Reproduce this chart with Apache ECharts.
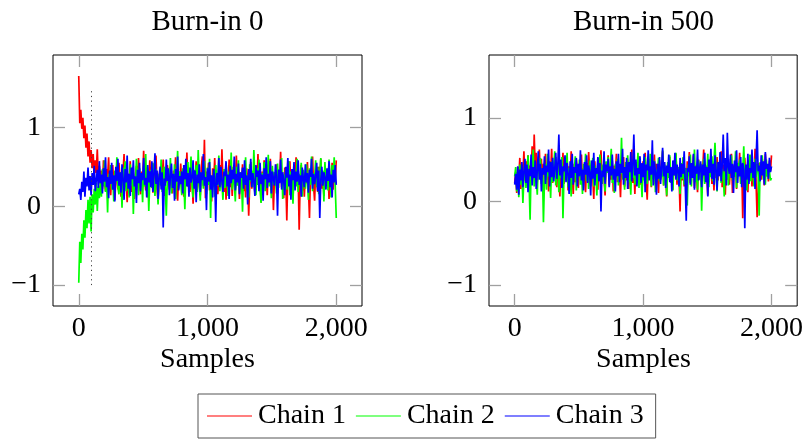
<!DOCTYPE html>
<html>
<head>
<meta charset="utf-8">
<script src="https://cdn.jsdelivr.net/npm/echarts@6/dist/echarts.min.js"></script>
<style>
  html, body { margin: 0; padding: 0; background: #fff; }
  #chart { width: 806px; height: 440px; }
</style>
</head>
<body>
<div id="chart"></div>
<script>
// MCMC trace plots: three chains, every 8th sample kept.
const SAMPLE_STEP = 8;
const panelTitles = ['Burn-in 0', 'Burn-in 500'];
const chainNames = ['Chain 1', 'Chain 2', 'Chain 3'];
const xTicks = [0, 1000, 2000];
const yTicks = [-1, 0, 1];
const burnInMark = 100;
const burnInMarkRange = [-1, 1.5];

// Panel 1: chains started from dispersed points
const chain1Run0 = [
  1.65, 1.05, 1.22, 0.98, 1.12, 0.86, 1.02, 0.74, 0.92, 0.63, 0.82, 0.55, 0.71, 0.48, 0.66, 0.38, 0.58, 0.42, 0.72, 0.35, 0.51,
  0.28, 0.45, 0.22, 0.58, 0.31, 0.19, 0.47, 0.36, 0.62, 0.25,
  0.14, 0.39, 0.52, 0.27, 0.08, 0.33, 0.48, 0.21, 0.55, 0.37,
  0.12, 0.29, 0.43, 0.66, 0.24, 0.35, 0.05, 0.41, 0.30, 0.57,
  0.18, 0.46, 0.26, 0.09, 0.38, 0.51, 0.23, 0.61, 0.32, 0.15,
  0.44, 0.28, 0.70, 0.34, 0.20, 0.49, 0.11, 0.36, 0.58, 0.27,
  0.40, 0.17, 0.53, 0.31, 0.64, 0.22, 0.06, 0.38, 0.47, 0.26,
  0.35, 0.59, 0.13, 0.42, 0.30, 0.52, 0.37, 0.21, 0.50, 0.28,
  0.16, 0.45, 0.33, 0.62, 0.19, 0.07, 0.41, 0.29, 0.54, 0.24,
  0.38, 0.12, 0.46, 0.31, 0.68, 0.25, 0.40, 0.18, 0.52, 0.34,
  0.03, 0.36, 0.27, 0.57, 0.21, 0.43, 0.30, 0.14, 0.49, 0.63,
  0.26, 0.84, 0.10, 0.44, 0.32, 0.55, 0.20, 0.37, 0.06, 0.48,
  0.29, 0.61, 0.23, 0.41, 0.15, 0.35, 0.52, 0.27, 0.72, 0.31,
  0.18, 0.46, 0.08, 0.38, 0.28, 0.59, 0.24, 0.42, 0.13, 0.50,
  0.33, 0.21, 0.64, 0.30, 0.45, 0.09, 0.37, 0.26, 0.53, 0.19,
  0.40, 0.11, 0.48, 0.34, -0.12, 0.29, 0.56, 0.22, 0.43, 0.36,
  0.17, 0.51, 0.27, 0.66, 0.23, 0.39, 0.05, 0.44, 0.31, 0.58,
  0.25, 0.37, 0.14, 0.47, 0.32, 0.60, 0.20, 0.41, -0.05, 0.35,
  0.28, 0.53, 0.16, 0.45, 0.30, 0.69, 0.24, 0.38, 0.10, 0.49,
  0.34, -0.18, 0.42, 0.26, 0.57, 0.21, 0.36, 0.08, 0.47, 0.31,
  0.62, 0.27, 0.40, -0.30, 0.33, 0.52, 0.19, 0.44, 0.12, 0.38,
  0.29, 0.56, 0.23, -0.15, 0.41, 0.35, 0.63, 0.25, 0.07, 0.46,
  0.32, 0.18, 0.50, 0.28, 0.60, 0.22, 0.39, 0.13, 0.48, 0.36,
  0.26, 0.44, 0.09, 0.37, 0.30, 0.55, 0.21, 0.42, 0.34, 0.58
];
const chain2Run0 = [
  -0.97, -0.45, -0.72, -0.35, -0.55, -0.18, -0.40, -0.05, -0.28, 0.08, -0.22, 0.12, -0.32, 0.15, -0.08, 0.22, 0.02, 0.30, -0.06, 0.25, 0.10,
  0.33, 0.12, 0.47, 0.25, 0.58, 0.18, 0.36, -0.08, 0.41, 0.29,
  0.52, 0.21, 0.38, 0.06, 0.45, 0.31, 0.62, 0.24, 0.15, 0.43,
  0.35, -0.02, 0.49, 0.27, 0.57, 0.19, 0.40, 0.30, 0.11, 0.53,
  0.26, 0.44, -0.10, 0.37, 0.22, 0.60, 0.32, 0.14, 0.48, 0.28,
  0.39, 0.05, 0.51, 0.25, 0.66, 0.20, 0.42, -0.06, 0.34, 0.46,
  0.23, 0.55, 0.30, 0.13, 0.47, 0.36, 0.02, 0.41, 0.27, 0.59,
  0.18, 0.38, 0.50, 0.24, -0.12, 0.33, 0.45, 0.29, 0.61, 0.16,
  0.40, 0.26, 0.53, 0.09, 0.37, 0.70, 0.22, 0.44, 0.31, 0.14,
  0.48, 0.35, -0.04, 0.42, 0.28, 0.56, 0.20, 0.39, 0.63, 0.25,
  0.11, 0.46, 0.33, 0.52, 0.18, 0.71, 0.29, 0.07, 0.43, 0.36,
  0.22, 0.57, 0.31, 0.15, 0.49, 0.27, 0.60, -0.15, 0.38, 0.24,
  0.45, 0.12, 0.52, 0.34, 0.26, 0.64, 0.19, 0.41, 0.30, 0.08,
  0.47, 0.23, 0.55, 0.36, 0.13, 0.44, 0.29, 0.68, 0.21, 0.40,
  0.32, 0.06, 0.50, 0.26, 0.58, 0.17, 0.43, 0.35, -0.07, 0.46,
  0.28, 0.62, 0.20, 0.39, 0.11, 0.53, 0.31, 0.45, 0.24, 0.71,
  0.37, 0.14, 0.48, 0.27, 0.59, 0.22, 0.04, 0.42, 0.33, 0.56,
  0.19, 0.45, 0.30, 0.65, 0.25, 0.38, 0.10, 0.51, 0.28, 0.43,
  0.35, 0.16, 0.54, 0.23, 0.47, 0.32, 0.61, 0.09, 0.40, 0.26,
  0.49, 0.21, 0.37, 0.57, 0.14, 0.44, 0.30, 0.03, 0.52, 0.34,
  0.25, 0.60, 0.18, 0.41, 0.29, 0.55, 0.12, 0.46, 0.36, 0.22,
  0.53, 0.31, 0.08, 0.48, 0.27, 0.63, 0.19, 0.42, 0.35, 0.58,
  0.24, 0.50, 0.15, 0.39, 0.61, 0.28, 0.45, 0.06, 0.56, 0.33,
  0.47, 0.20, 0.59, 0.37, 0.11, 0.52, 0.30, 0.62, 0.26, -0.15
];
const chain3Run0 = [
  0.15, 0.22, 0.08, 0.31, 0.18, 0.44, 0.12, 0.36, 0.25, 0.49,
  0.20, 0.38, 0.14, 0.42, 0.27, 0.51, 0.19, 0.33, 0.46, 0.23,
  0.57, 0.29, 0.40, 0.16, 0.48, 0.31, 0.62, 0.24, 0.37, 0.10,
  0.45, 0.28, 0.55, 0.21, 0.39, 0.06, 0.50, 0.32, 0.60, 0.26,
  0.43, 0.17, 0.53, 0.35, 0.08, 0.47, 0.30, 0.64, 0.22, 0.41,
  0.13, 0.49, 0.34, 0.58, 0.25, 0.38, 0.04, 0.46, 0.29, 0.55,
  0.19, 0.42, 0.33, 0.61, 0.27, 0.36, 0.11, 0.52, 0.30, 0.44,
  0.24, 0.57, 0.18, 0.40, 0.67, 0.28, 0.45, 0.09, 0.37, 0.50,
  0.21, 0.43, -0.27, 0.35, 0.26, 0.59, 0.32, 0.48, 0.14, 0.39,
  0.54, 0.23, 0.41, 0.07, 0.47, 0.31, 0.63, 0.20, 0.38, 0.28,
  0.44, 0.16, 0.52, 0.34, 0.60, 0.25, 0.42, 0.12, 0.49, 0.30,
  0.36, 0.58, 0.22, 0.45, 0.05, 0.40, 0.29, 0.53, 0.18, 0.43,
  0.33, 0.66, 0.26, 0.37, -0.05, 0.48, 0.31, 0.56, 0.21, 0.39,
  0.11, 0.47, 0.35, -0.20, 0.42, 0.27, 0.61, 0.24, 0.50, 0.32,
  0.18, 0.44, 0.38, 0.57, 0.25, 0.40, 0.09, 0.51, 0.29, 0.46,
  0.34, 0.63, 0.20, 0.41, 0.30, 0.54, 0.15, 0.43, 0.36, 0.49,
  0.22, 0.58, 0.27, 0.39, 0.02, 0.47, 0.33, 0.60, 0.24, 0.42,
  0.31, 0.13, 0.52, 0.37, 0.45, 0.19, 0.55, 0.28, 0.40, 0.07,
  0.48, 0.34, 0.62, 0.23, 0.41, 0.30, 0.57, 0.16, 0.44, 0.35,
  0.26, 0.53, 0.38, -0.12, 0.46, 0.29, 0.59, 0.21, 0.43, 0.32,
  0.14, 0.50, 0.36, 0.61, 0.25, 0.40, 0.08, 0.47, 0.33, 0.56,
  0.20, 0.44, 0.31, 0.58, 0.27, 0.39, 0.12, 0.49, 0.35, 0.24,
  0.53, 0.30, 0.42, 0.17, 0.46, 0.37, 0.60, 0.22, 0.41, 0.28,
  0.38, 0.55, 0.19, 0.45, -0.15, 0.33, 0.50, 0.26, 0.43, 0.36,
  0.21, 0.48, 0.32, 0.57, 0.24, 0.40, 0.11, 0.46, 0.30, 0.52,
  0.27
];

// Panel 2: chains after discarding 500 warm-up samples
const chain1Run500 = [
  0.22, 0.35, 0.10, 0.41, 0.28, 0.52, 0.15, 0.44, 0.31, 0.60,
  0.25, 0.48, 0.37, 0.55, 0.19, 0.43, 0.33, 0.66, 0.27, 0.80,
  0.39, 0.58, 0.24, 0.46, 0.62, 0.30, 0.51, 0.18, 0.45, 0.36,
  0.57, 0.26, 0.40, 0.12, 0.48, 0.33, 0.63, 0.22, 0.41, 0.29,
  0.53, 0.17, 0.44, 0.35, 0.06, 0.47, 0.28, 0.58, 0.21, 0.39,
  0.31, 0.54, 0.13, 0.42, 0.26, 0.60, 0.34, 0.09, 0.45, 0.23,
  0.50, 0.37, 0.16, 0.43, 0.29, 0.56, 0.20, 0.40, 0.32, 0.11,
  0.46, 0.27, 0.59, 0.35, 0.18, 0.44, 0.30, 0.03, 0.48, 0.24,
  0.38, 0.14, 0.52, 0.33, 0.61, 0.21, 0.42, 0.28, 0.07, 0.47,
  0.36, 0.55, 0.19, 0.40, 0.26, 0.49, 0.12, 0.43, 0.31, 0.57,
  0.23, 0.41, 0.34, 0.05, 0.46, 0.29, 0.53, 0.18, 0.38, 0.25,
  0.50, 0.15, 0.44, 0.32, 0.62, 0.22, 0.39, 0.09, 0.47, 0.28,
  0.36, 0.54, 0.20, 0.41, 0.13, 0.48, 0.30, 0.58, 0.24, 0.02,
  0.43, 0.34, 0.51, 0.17, 0.40, 0.27, 0.56, 0.21, 0.45, 0.33,
  0.10, 0.49, 0.26, 0.37, 0.60, 0.19, 0.42, 0.31, 0.06, 0.46,
  0.28, 0.53, 0.23, 0.39, 0.14, 0.47, 0.35, 0.57, 0.20, 0.41,
  0.30, -0.12, 0.44, 0.25, 0.52, 0.18, 0.38, 0.09, 0.48, 0.33,
  0.59, 0.22, 0.40, 0.29, 0.55, 0.16, 0.43, 0.36, 0.11, 0.50,
  0.27, 0.45, 0.19, 0.37, 0.62, 0.24, 0.41, 0.32, 0.07, 0.47,
  0.34, 0.56, 0.21, 0.39, 0.13, 0.48, 0.28, 0.53, 0.25, 0.42,
  0.31, 0.60, 0.17, 0.44, 0.35, 0.08, 0.46, 0.26, 0.51, 0.20,
  0.38, 0.57, 0.10, 0.43, 0.30, 0.49, 0.15, 0.40, 0.33, 0.58,
  0.23, 0.45, -0.20, 0.36, 0.52, 0.27, 0.42, 0.11, 0.47, 0.32,
  0.55, 0.18, 0.41, 0.29, 0.63, 0.22, -0.19, 0.10, 0.46, 0.34,
  0.26, 0.51, 0.37, 0.19, 0.57, 0.30, 0.44, 0.24, 0.49, 0.36,
  0.55
];
const chain2Run500 = [
  0.30, 0.41, 0.12, 0.35, 0.05, 0.44, 0.20, 0.38, -0.02, 0.29,
  0.47, 0.16, 0.36, 0.55, 0.24, -0.22, 0.40, 0.31, 0.62, 0.18,
  0.43, 0.27, 0.08, 0.49, 0.33, 0.52, 0.21, 0.39, -0.25, 0.26,
  0.45, 0.14, 0.57, 0.30, 0.37, 0.04, 0.48, 0.23, 0.41, 0.60,
  0.19, 0.35, 0.46, 0.11, 0.39, 0.28, 0.53, -0.20, 0.32, 0.44,
  0.25, 0.58, 0.17, 0.40, 0.31, 0.06, 0.47, 0.22, 0.36, 0.54,
  0.13, 0.42, 0.29, 0.50, 0.20, 0.38, 0.09, 0.45, 0.33, 0.57,
  0.24, 0.41, 0.15, 0.49, 0.35, 0.27, 0.52, 0.18, 0.43, 0.31,
  0.07, 0.46, 0.25, 0.56, 0.38, 0.21, 0.44, 0.30, 0.12, 0.48,
  0.34, 0.53, 0.27, 0.40, 0.63, 0.22, 0.37, 0.10, 0.45, 0.29,
  0.51, 0.19, 0.42, 0.33, 0.76, 0.26, 0.39, 0.14, 0.47, 0.31,
  0.55, 0.23, 0.36, 0.08, 0.44, 0.28, 0.50, 0.20, 0.41, 0.34,
  0.58, 0.16, 0.43, 0.30, 0.05, 0.46, 0.25, 0.53, 0.37, 0.21,
  0.40, 0.32, 0.57, 0.18, 0.45, 0.27, 0.49, 0.11, 0.38, 0.35,
  0.52, 0.24, 0.42, 0.29, 0.61, 0.19, 0.44, 0.33, 0.07, 0.47,
  0.28, 0.55, 0.22, 0.39, 0.13, 0.48, 0.31, 0.58, 0.25, 0.41,
  0.34, 0.09, 0.46, 0.27, 0.53, 0.20, 0.40, 0.36, -0.05, 0.44,
  0.30, 0.56, 0.18, 0.42, 0.33, 0.62, 0.23, 0.38, 0.14, 0.49,
  0.26, 0.45, -0.11, 0.35, 0.51, 0.21, 0.43, 0.32, 0.57, 0.17,
  0.40, 0.29, 0.54, 0.24, 0.47, 0.70, 0.36, 0.12, 0.44, 0.31,
  0.58, 0.22, 0.39, 0.34, 0.06, 0.48, 0.27, 0.52, 0.19, 0.43,
  0.35, 0.55, 0.25, 0.41, 0.30, 0.60, 0.16, 0.46, 0.33, 0.50,
  0.21, 0.44, 0.37, 0.66, 0.28, 0.40, 0.13, 0.49, 0.32, 0.56,
  0.24, 0.42, 0.35, 0.18, 0.51, 0.29, 0.45, 0.38, -0.17, 0.47,
  0.33, 0.55, 0.26, 0.41, 0.20, 0.50, 0.30, 0.44, 0.36, 0.25,
  0.28
];
const chain3Run500 = [
  0.20, 0.33, 0.14, 0.42, 0.08, 0.38, 0.25, 0.47, 0.17, 0.35,
  0.51, 0.22, 0.44, 0.11, 0.39, 0.30, 0.56, 0.19, 0.41, 0.28,
  0.49, 0.15, 0.37, 0.60, 0.26, 0.45, 0.12, 0.40, 0.32, 0.54,
  0.21, 0.43, 0.35, 0.62, 0.18, 0.47, 0.29, 0.52, 0.24, 0.39,
  0.58, 0.27, 0.44, 0.80, 0.31, 0.50, 0.16, 0.42, 0.36, 0.55,
  0.23, 0.46, 0.33, 0.09, 0.48, 0.28, 0.57, 0.20, 0.41, 0.34,
  0.52, 0.18, 0.45, 0.30, 0.61, 0.25, 0.38, 0.13, 0.47, 0.32,
  0.55, 0.22, 0.43, 0.35, 0.07, 0.49, 0.27, 0.58, 0.19, 0.40,
  0.33, 0.53, 0.24, 0.46, -0.12, 0.37, 0.29, 0.60, 0.21, 0.44,
  0.36, 0.51, 0.17, 0.42, 0.31, 0.56, 0.26, 0.39, 0.12, 0.48,
  0.30, 0.57, 0.23, 0.45, 0.34, 0.63, 0.20, 0.41, 0.28, 0.52,
  0.15, 0.47, 0.35, 0.59, 0.24, 0.43, 0.80, 0.31, 0.50, 0.18,
  0.40, 0.33, 0.54, 0.22, 0.46, 0.29, 0.57, 0.11, 0.44, 0.37,
  0.61, 0.25, 0.42, 0.32, 0.73, 0.19, 0.48, 0.35, 0.08, 0.45,
  0.27, 0.53, 0.21, 0.39, 0.64, 0.30, 0.47, 0.16, 0.43, 0.34,
  0.56, 0.23, 0.41, 0.12, 0.49, 0.31, 0.58, 0.26, 0.44, 0.37,
  0.18, 0.52, 0.29, 0.45, 0.33, 0.60, 0.22, -0.23, 0.40, 0.35,
  0.54, 0.20, 0.46, 0.28, 0.57, 0.14, 0.42, 0.33, 0.62, 0.25,
  0.39, 0.48, 0.17, 0.44, 0.31, 0.58, 0.23, 0.41, 0.06, 0.50,
  0.34, 0.63, 0.27, 0.45, 0.20, 0.55, 0.38, 0.13, 0.47, 0.30,
  0.59, 0.24, 0.43, 0.80, 0.36, 0.52, 0.19, 0.82, 0.41, 0.33,
  0.56, 0.28, 0.45, 0.10, 0.49, 0.35, 0.61, 0.22, 0.42, 0.30,
  0.53, 0.17, 0.46, 0.38, -0.32, 0.44, 0.26, 0.57, 0.21, 0.40,
  0.34, 0.62, 0.28, 0.47, 0.15, 0.51, 0.85, 0.36, 0.43, 0.24,
  0.55, 0.31, 0.48, 0.20, 0.59, 0.39, 0.45, 0.27, 0.52, 0.35,
  0.42
];

const chainColors = ['#ff0000', '#00ff00', '#0000ff'];
const panels = [
  { chains: [chain1Run0, chain2Run0, chain3Run0], yMin: -1.265, yMax: 1.915, left: 53 },
  { chains: [chain1Run500, chain2Run500, chain3Run500], yMin: -1.25, yMax: 1.75, left: 489 }
];

const FONT = "'Liberation Serif', 'Times New Roman', serif";
const FS = 28;
const FS_TITLE = 29;
const GRID_TOP = 55, GRID_W = 309, GRID_H = 251;
const tickStyle = { show: true, inside: true, length: 12, lineStyle: { color: '#a0a0a0', width: 1.3 } };

function toPairs(values) {
  return values.map((v, i) => [i * SAMPLE_STEP, v]);
}
function fmtThousands(v) {
  return String(v).replace(/\B(?=(\d{3})+(?!\d))/g, ',');
}
function fmtY(v) {
  return v < 0 ? '\u2212' + Math.abs(v) : String(v);
}

const grids = [], xAxes = [], yAxes = [], series = [], titles = [];
panels.forEach((p, pi) => {
  grids.push({
    left: p.left, top: GRID_TOP, width: GRID_W, height: GRID_H,
    show: true, borderColor: '#000', borderWidth: 1, backgroundColor: 'transparent'
  });
  const xBase = { type: 'value', gridIndex: pi, min: -200, max: 2200,
    splitLine: { show: false }, axisLine: { show: false, onZero: false } };
  xAxes.push(Object.assign({}, xBase, {
    position: 'bottom',
    axisTick: Object.assign({ customValues: xTicks }, tickStyle),
    axisLabel: { customValues: xTicks, formatter: fmtThousands, margin: 9,
      fontFamily: FONT, fontSize: FS, color: '#000' }
  }));
  xAxes.push(Object.assign({}, xBase, {
    position: 'top',
    axisTick: Object.assign({ customValues: xTicks }, tickStyle),
    axisLabel: { show: false }
  }));
  const yBase = { type: 'value', gridIndex: pi, min: p.yMin, max: p.yMax,
    splitLine: { show: false }, axisLine: { show: false, onZero: false } };
  yAxes.push(Object.assign({}, yBase, {
    position: 'left',
    axisTick: Object.assign({ customValues: yTicks }, tickStyle),
    axisLabel: { customValues: yTicks, formatter: fmtY, margin: 12,
      fontFamily: FONT, fontSize: FS, color: '#000' }
  }));
  yAxes.push(Object.assign({}, yBase, {
    position: 'right',
    axisTick: Object.assign({ customValues: yTicks }, tickStyle),
    axisLabel: { show: false }
  }));

  p.chains.forEach((vals, ci) => {
    series.push({
      name: chainNames[ci], type: 'line', xAxisIndex: pi * 2, yAxisIndex: pi * 2,
      data: toPairs(vals), symbol: 'none', showSymbol: false, animation: false,
      lineStyle: { color: chainColors[ci], width: 1.7 }, itemStyle: { color: chainColors[ci] },
      z: 2 + ci
    });
  });

  const cx = p.left + GRID_W / 2;
  titles.push({ text: panelTitles[pi], left: cx, top: 8, textAlign: 'center', padding: 0,
    textStyle: { fontFamily: FONT, fontSize: FS_TITLE, fontWeight: 'normal', color: '#000' } });
  titles.push({ text: 'Samples', left: cx, top: 346, textAlign: 'center', padding: 0,
    textStyle: { fontFamily: FONT, fontSize: FS, fontWeight: 'normal', color: '#000' } });
});

// Dotted marker at the end of the warm-up region in the first panel
series.push({
  type: 'line', xAxisIndex: 0, yAxisIndex: 0, data: [], silent: true, z: 10,
  markLine: {
    symbol: 'none', silent: true, animation: false, label: { show: false },
    lineStyle: { type: [1.2, 3.5], color: '#444', width: 1 },
    data: [[{ coord: [burnInMark, burnInMarkRange[0]] }, { coord: [burnInMark, burnInMarkRange[1]] }]]
  }
});

const chart = echarts.init(document.getElementById('chart'), null, { renderer: 'canvas' });
chart.setOption({
  animation: false,
  backgroundColor: '#fff',
  title: titles,
  grid: grids,
  xAxis: xAxes,
  yAxis: yAxes,
  legend: {
    data: chainNames, left: 198, top: 394, orient: 'horizontal', icon: 'rect',
    padding: [8, 12, 8, 9], itemGap: 10, itemWidth: 45, itemHeight: 1,
    borderColor: '#555', borderWidth: 1, selectedMode: false,
    textStyle: { fontFamily: FONT, fontSize: FS, color: '#000', padding: [0, 0, 0, 1] }
  },
  series: series
});
</script>
</body>
</html>
